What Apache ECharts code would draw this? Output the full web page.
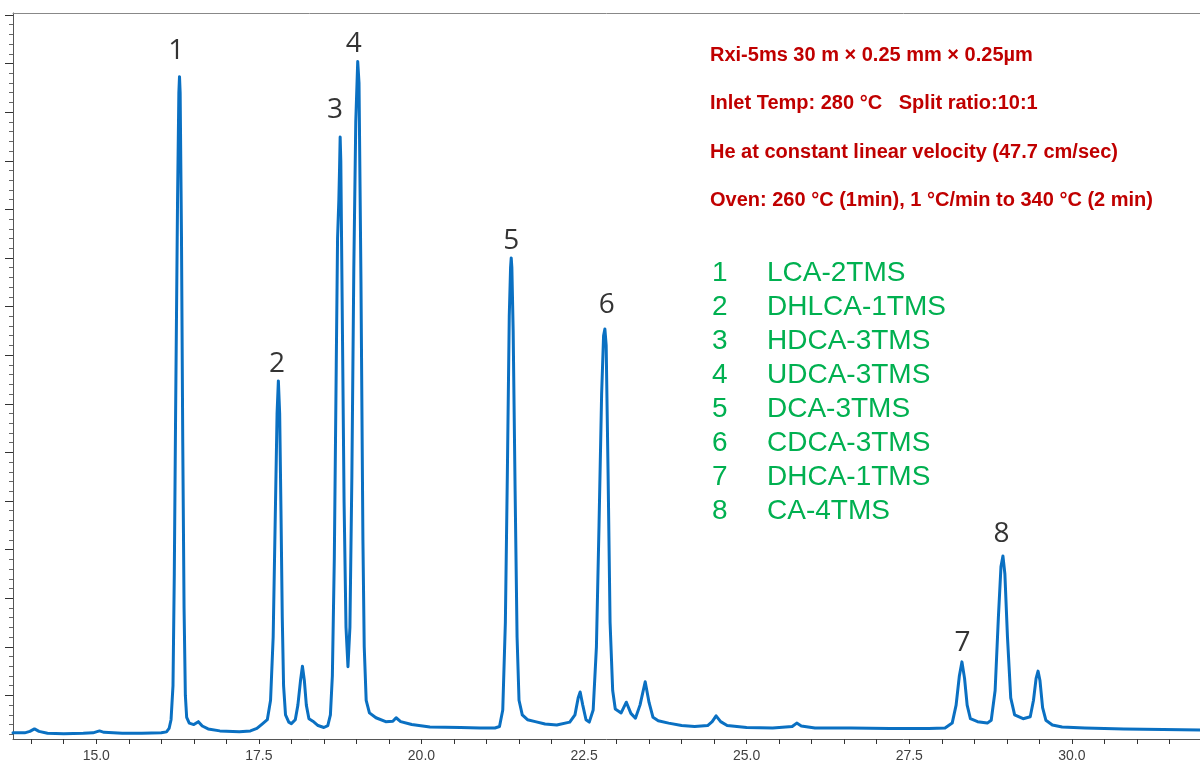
<!DOCTYPE html>
<html>
<head>
<meta charset="utf-8">
<script src="https://cdn.jsdelivr.net/npm/echarts@6/dist/echarts.min.js"></script>
<style>
  html, body { margin: 0; padding: 0; background: #fff; }
  #chart { width: 1200px; height: 767px; }
</style>
</head>
<body>
<div id="chart"></div>
<script>
// retention time (min) and detector signal
var times = [13.72, 13.90, 13.98, 14.05, 14.12, 14.25, 14.50, 14.80, 14.95, 15.05, 15.12, 15.40, 15.70, 16.00, 16.08,
  16.12, 16.15, 16.18, 16.20, 16.22, 16.25, 16.27, 16.28, 16.29, 16.31, 16.33, 16.35, 16.37, 16.39, 16.43, 16.50,
  16.57, 16.63, 16.72, 16.90, 17.20, 17.37, 17.47, 17.55, 17.63, 17.68, 17.72, 17.75, 17.78, 17.80, 17.82, 17.84,
  17.86, 17.88, 17.91, 17.96, 18.00, 18.06, 18.10, 18.14, 18.17, 18.20, 18.23, 18.27, 18.33, 18.41, 18.50, 18.56,
  18.60, 18.63, 18.66, 18.69, 18.71, 18.73, 18.74, 18.75, 18.76, 18.78, 18.81, 18.84, 18.87, 18.90, 18.93, 18.96,
  18.99, 19.02, 19.04, 19.07, 19.10, 19.12, 19.15, 19.20, 19.30, 19.45, 19.56, 19.61, 19.68, 19.85, 20.13, 20.60,
  20.90, 21.13, 21.20, 21.25, 21.29, 21.32, 21.35, 21.37, 21.38, 21.39, 21.41, 21.44, 21.47, 21.50, 21.55, 21.63,
  21.75, 21.90, 22.08, 22.28, 22.36, 22.41, 22.44, 22.48, 22.53, 22.58, 22.64, 22.69, 22.73, 22.77, 22.80, 22.82,
  22.84, 22.87, 22.90, 22.94, 22.98, 23.07, 23.15, 23.22, 23.29, 23.36, 23.44, 23.50, 23.56, 23.64, 23.80, 24.00,
  24.20, 24.40, 24.47, 24.53, 24.60, 24.70, 25.00, 25.40, 25.70, 25.77, 25.84, 26.05, 26.60, 27.20, 27.80, 28.05,
  28.16, 28.22, 28.27, 28.31, 28.35, 28.39, 28.44, 28.55, 28.70, 28.76, 28.82, 28.87, 28.91, 28.94, 28.97, 29.01,
  29.06, 29.12, 29.25, 29.36, 29.41, 29.45, 29.48, 29.51, 29.55, 29.60, 29.70, 29.85, 30.20, 30.80, 31.40, 31.97];
var signal = [2.3, 2.3, 2.6, 3.1, 2.6, 2.2, 2.1, 2.2, 2.3, 2.7, 2.4, 2.2, 2.2, 2.3, 2.5,
  3.2, 5, 12, 35, 68, 112, 134, 137.3, 134, 105, 62, 28, 10, 5.5, 4.3, 4.0,
  4.6, 3.7, 3.1, 2.7, 2.5, 2.7, 3.2, 4.1, 5, 9, 22, 45, 68, 74.7, 68, 48,
  26, 12, 6, 4.5, 4.2, 5, 8, 13, 16.0, 13, 8, 5.2, 4.7, 3.8, 3.4, 3.8,
  6, 14, 38, 78, 104, 112, 118, 124.9, 120, 92, 50, 24, 15.9, 24, 55, 98,
  128, 140.4, 136, 95, 42, 20, 9, 6.4, 5.4, 4.6, 4.7, 5.4, 4.6, 4.0, 3.5, 3.4,
  3.3, 3.3, 3.6, 7, 25, 55, 88, 98, 100, 98, 85, 52, 22, 9, 6, 5,
  4.6, 4.1, 3.9, 4.5, 6, 9.5, 10.7, 8, 5, 4.5, 7, 20, 45, 72, 84, 85.4,
  82, 55, 25, 11, 7.2, 6.4, 8.6, 6.3, 5.3, 8, 12.8, 8.5, 5.5, 4.8, 4.3, 3.8,
  3.6, 3.8, 4.6, 5.8, 4.6, 3.8, 3.4, 3.3, 3.6, 4.3, 3.7, 3.3, 3.3, 3.2, 3.2, 3.3,
  4.3, 8, 14, 16.9, 13.5, 8, 5.2, 4.6, 4.3, 4.9, 11, 26, 36.5, 38.7, 35, 22,
  9.5, 6, 5.2, 5.6, 9, 13.5, 15.0, 13, 7.5, 4.9, 3.9, 3.5, 3.3, 3.1, 3.0, 2.9];

// peak numbers and where they sit in the picture
var peakNums = ['1', '2', '3', '4', '5', '6', '7', '8'];
var peakLabelX = [16.23, 17.78, 18.67, 18.96, 21.38, 22.85, 28.32, 28.92];
var peakLabelY = [142.6, 78.2, 130.5, 144.1, 103.5, 90.4, 20.8, 43.2];

// compound list and run conditions
var compounds = ['LCA-2TMS', 'DHLCA-1TMS', 'HDCA-3TMS', 'UDCA-3TMS', 'DCA-3TMS', 'CDCA-3TMS', 'DHCA-1TMS', 'CA-4TMS'];
var conditions = [
  'Rxi-5ms 30 m \u00d7 0.25 mm \u00d7 0.25\u00b5m',
  'Inlet Temp: 280 \u00b0C   Split ratio:10:1',
  'He at constant linear velocity (47.7 cm/sec)',
  'Oven: 260 \u00b0C (1min), 1 \u00b0C/min to 340 \u00b0C (2 min)'
];

// axis ticks
var xTickLabels = [15.0, 17.5, 20.0, 22.5, 25.0, 27.5, 30.0];
var xTicks = [14.0, 14.5, 15.0, 15.5, 16.0, 16.5, 17.0, 17.5, 18.0, 18.5, 19.0, 19.5, 20.0, 20.5, 21.0, 21.5,
  22.0, 22.5, 23.0, 23.5, 24.0, 24.5, 25.0, 25.5, 26.0, 26.5, 27.0, 27.5, 28.0, 28.5, 29.0, 29.5, 30.0, 30.5, 31.0, 31.5];
var yMajorTicks = [10, 20, 30, 40, 50, 60, 70, 80, 90, 100, 110, 120, 130, 140, 150];
var yMinorTicks = [2, 4, 6, 8, 12, 14, 16, 18, 22, 24, 26, 28, 32, 34, 36, 38, 42, 44, 46, 48, 52, 54, 56, 58,
  62, 64, 66, 68, 72, 74, 76, 78, 82, 84, 86, 88, 92, 94, 96, 98, 102, 104, 106, 108, 112, 114, 116, 118,
  122, 124, 126, 128, 132, 134, 136, 138, 142, 144, 146, 148];

var xMin = 13.72, xMax = 31.97, yMin = 1.03, yMax = 150.4;

var chart = echarts.init(document.getElementById('chart'));

var trace = times.map(function(t, i) { return [t, signal[i]]; });
var labelPts = peakNums.map(function(n, i) { return { value: [peakLabelX[i], peakLabelY[i]], name: n }; });

// text blocks on the right
var graphics = [];
conditions.forEach(function(s, i) {
  graphics.push({
    type: 'text', left: 710, top: 45 + i * 48.5,
    style: { text: s, fill: '#C00000', font: 'bold 20px "Liberation Sans", Arial, sans-serif' }
  });
});
compounds.forEach(function(s, i) {
  var top = 259 + i * 34;
  graphics.push({
    type: 'text', left: 712, top: top,
    style: { text: String(i + 1), fill: '#00B050', font: '28px "Liberation Sans", Arial, sans-serif' }
  });
  graphics.push({
    type: 'text', left: 767, top: top,
    style: { text: s, fill: '#00B050', font: '28px "Liberation Sans", Arial, sans-serif' }
  });
});

var option = {
  animation: false,
  backgroundColor: '#fff',
  grid: { left: 13, right: 0, top: 13, bottom: 28 },
  xAxis: [{
    type: 'value', min: xMin, max: xMax, position: 'bottom',
    splitLine: { show: false },
    axisLine: { lineStyle: { color: '#555', width: 1 } },
    axisTick: { customValues: xTicks, length: 5, lineStyle: { color: '#333' } },
    axisLabel: {
      customValues: xTickLabels, margin: 10, color: '#404040', fontSize: 14,
      fontFamily: '"Liberation Sans", Arial, sans-serif',
      formatter: function(v) { return v.toFixed(1); }
    }
  }, {
    type: 'value', min: xMin, max: xMax, position: 'top',
    splitLine: { show: false },
    axisLine: { lineStyle: { color: '#888', width: 1 } },
    axisTick: { show: false }, axisLabel: { show: false }
  }],
  yAxis: [{
    type: 'value', min: yMin, max: yMax, position: 'left',
    splitLine: { show: false },
    axisLine: { show: true, lineStyle: { color: '#555', width: 1 } },
    axisTick: { customValues: yMajorTicks, length: 8, lineStyle: { color: '#333' } },
    axisLabel: { show: false }
  }, {
    type: 'value', min: yMin, max: yMax, position: 'left',
    splitLine: { show: false },
    axisLine: { show: false },
    axisTick: { customValues: yMinorTicks, length: 4, lineStyle: { color: '#666' } },
    axisLabel: { show: false }
  }],
  graphic: graphics,
  series: [{
    type: 'line',
    data: trace,
    showSymbol: false,
    smooth: false,
    lineStyle: { color: '#0A70C2', width: 3, join: 'round', cap: 'round' },
    z: 3
  }, {
    type: 'scatter',
    data: labelPts,
    symbolSize: 0,
    silent: true,
    label: {
      show: true, position: 'inside',
      formatter: '{b}', color: '#000', fontSize: 28,
      fontFamily: '"Open Sans", "Liberation Sans", sans-serif'
    },
    z: 4
  }]
};

chart.setOption(option);
</script>
</body>
</html>
